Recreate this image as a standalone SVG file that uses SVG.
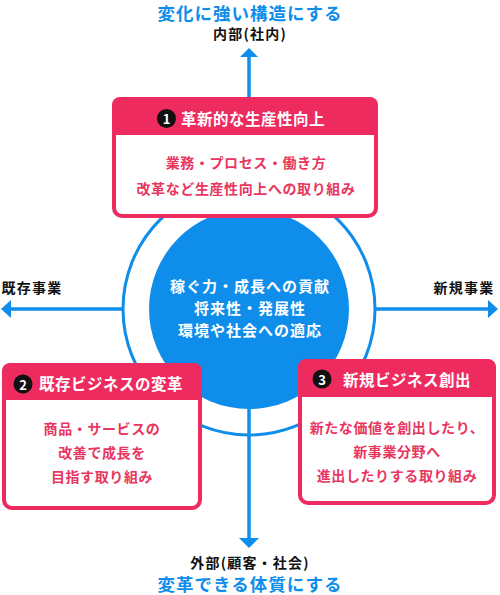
<svg xmlns="http://www.w3.org/2000/svg" width="500" height="595" viewBox="0 0 500 595">
<defs>
<style>
text{font-family:"Noto Sans CJK JP","Noto Sans",sans-serif;font-weight:bold;text-anchor:middle;dominant-baseline:central}
.blue{fill:#0f8deb}
.ttl{font-size:17.5px;letter-spacing:1px}
.lab{font-size:14px;fill:#111;letter-spacing:1.2px}
.box{fill:#fff;stroke:#ee2b5f;stroke-width:4}
.hdr{fill:#ee2b5f}
.ht{font-size:15.5px;fill:#fff;text-anchor:start;letter-spacing:0.5px}
.bt{font-size:14px;fill:#e8365f;letter-spacing:0.6px}
.ct{font-size:15px;fill:#fff;letter-spacing:1px}
.badge{fill:#111}
.bn{font-size:13px;fill:#fff}
.ln{stroke:#0f8deb;stroke-width:3.5;fill:none}
.ah{fill:#0f8deb}
</style>
</defs>
<g id="titles">
<text x="250" y="12" class="ttl blue">変化に強い構造にする</text>
<text x="250" y="33" class="lab">内部(社内)</text>
<text x="250" y="562" class="lab">外部(顧客・社会)</text>
<text x="250" y="583" class="ttl blue">変革できる体質にする</text>
<text x="32" y="287" class="lab">既存事業</text>
<text x="464" y="287" class="lab">新規事業</text>
</g>
<g id="connectors">
<line x1="249" y1="309" x2="249" y2="56" class="ln"/>
<polygon points="240,57 258,57 249,48" class="ah"/>
<line x1="249" y1="309" x2="249" y2="539" class="ln"/>
<polygon points="239,538 259,538 249,548" class="ah"/>
<line x1="124" y1="309" x2="10" y2="309" class="ln"/>
<polygon points="11,300 11,318 1,309" class="ah"/>
<line x1="375" y1="309" x2="489" y2="309" class="ln"/>
<polygon points="488,300 488,318 498,309" class="ah"/>
</g>
<g id="ring">
<circle cx="249" cy="309" r="126" fill="none" stroke="#0f8deb" stroke-width="3"/>
</g>
<g id="center">
<circle cx="249" cy="309" r="100" fill="#0f8deb"/>
<text x="250" y="285" class="ct">稼ぐ力・成長への貢献</text>
<text x="250" y="307" class="ct">将来性・発展性</text>
<text x="250" y="329" class="ct">環境や社会への適応</text>
</g>
<g id="node1">
<rect x="114" y="99" width="262" height="117" rx="8" class="box"/>
<path d="M112,135 V105 a8,8 0 0 1 8,-8 H370 a8,8 0 0 1 8,8 V135 Z" class="hdr"/>
<circle cx="166.5" cy="118.5" r="9.5" class="badge"/>
<text x="166.5" y="118.5" class="bn">1</text>
<text x="181" y="118" class="ht">革新的な生産性向上</text>
<text x="246" y="162" class="bt">業務・プロセス・働き方</text>
<text x="246" y="188" class="bt">改革など生産性向上への取り組み</text>
</g>
<g id="node2">
<rect x="4" y="365" width="196" height="143" rx="8" class="box"/>
<path d="M2,400 V371 a8,8 0 0 1 8,-8 H194 a8,8 0 0 1 8,8 V400 Z" class="hdr"/>
<circle cx="23" cy="384" r="9.5" class="badge"/>
<text x="23" y="384" class="bn">2</text>
<text x="39" y="383" class="ht">既存ビジネスの変革</text>
<text x="102" y="428" class="bt">商品・サービスの</text>
<text x="102" y="452" class="bt">改善で成長を</text>
<text x="102" y="476" class="bt">目指す取り組み</text>
</g>
<g id="node3">
<rect x="300" y="361" width="194" height="142" rx="8" class="box"/>
<path d="M298,397 V367 a8,8 0 0 1 8,-8 H488 a8,8 0 0 1 8,8 V397 Z" class="hdr"/>
<circle cx="322" cy="379" r="9.5" class="badge"/>
<text x="322" y="379" class="bn">3</text>
<text x="343" y="379" class="ht">新規ビジネス創出</text>
<text x="397" y="427" class="bt">新たな価値を創出したり、</text>
<text x="397" y="451" class="bt">新事業分野へ</text>
<text x="397" y="475" class="bt">進出したりする取り組み</text>
</g>
</svg>
